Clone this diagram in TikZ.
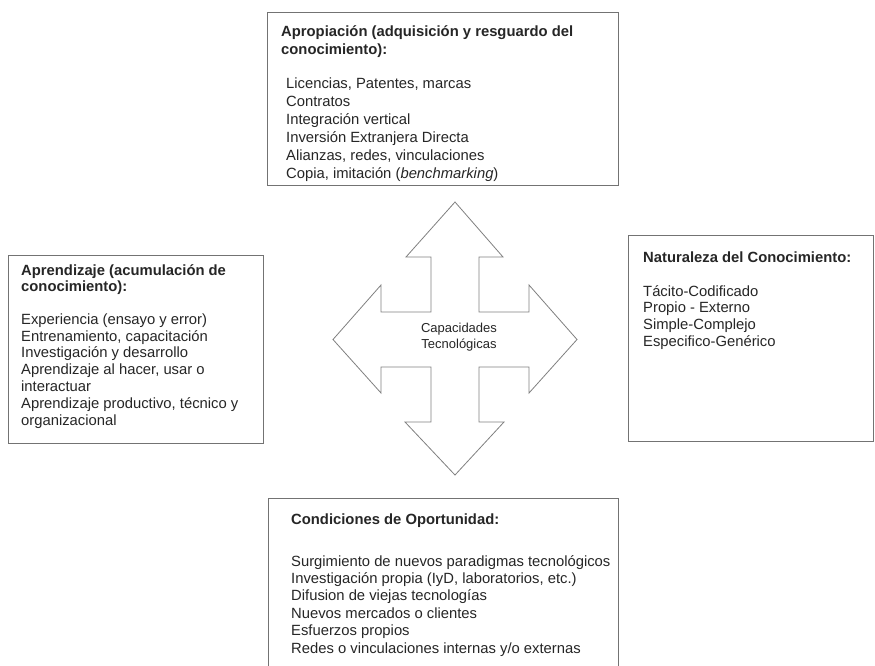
\documentclass[tikz,border=0pt]{standalone}
\usepackage{fontspec}
\setmainfont{Liberation Sans}
\begin{document}
\begin{tikzpicture}[x=1pt,y=-1pt,
  box/.style={draw=black!55, line width=0.8pt, fill=white, inner sep=0pt, anchor=north west},
  head/.style={font=\bfseries\fontsize{14.8}{18}\selectfont, anchor=base west, inner sep=0pt, text=black!85},
  item/.style={font=\fontsize{14.8}{18}\selectfont, anchor=base west, inner sep=0pt, text=black!85},
  ctext/.style={font=\fontsize{13}{16.3}\selectfont, align=center, inner sep=0pt, text=black!85},
  bigarrow/.style={draw=black!50, line width=0.8pt, fill=white, line join=miter}]
\useasboundingbox (0,0) rectangle (875,665);
\fill[white] (0,0) rectangle (875,665);

% boxes
\node[box, minimum width=351pt, minimum height=173pt] (topbox) at (267,12) {};
\node[box, minimum width=255pt, minimum height=188pt] (leftbox) at (8,255) {};
\node[box, minimum width=245pt, minimum height=206pt] (rightbox) at (628,235) {};
\node[box, minimum width=350pt, minimum height=190pt] (botbox) at (268,498) {};

% top box text
\node[head] (toph1) at (281,36) {Apropiación (adquisición y resguardo del};
\node[head] (toph2) at (281,54) {conocimiento):};
\foreach \t [count=\i from 0] in {{Licencias, Patentes, marcas},{Contratos},{Integración vertical},{Inversión Extranjera Directa},{Alianzas, redes, vinculaciones},{Copia, imitación (\textit{benchmarking})}}
  \node[item] (topi\i) at (286,88+\i*18) {\t};

% left box text
\node[head] (lefth1) at (21,275) {Aprendizaje (acumulación de};
\node[head] (lefth2) at (21,291.7) {conocimiento):};
\foreach \t [count=\i from 0] in {{Experiencia (ensayo y error)},{Entrenamiento, capacitación},{Investigación y desarrollo},{Aprendizaje al hacer, usar o},{interactuar},{Aprendizaje productivo, técnico y},{organizacional}}
  \node[item] (lefti\i) at (21,324.3+\i*16.8) {\t};

% right box text
\node[head] (righth1) at (643,262) {Naturaleza del Conocimiento:};
\foreach \t [count=\i from 0] in {{Tácito-Codificado},{Propio - Externo},{Simple-Complejo},{Especifico-Genérico}}
  \node[item] (righti\i) at (643,296+\i*16.7) {\t};

% bottom box text
\node[head] (both1) at (291,524) {Condiciones de Oportunidad:};
\foreach \t [count=\i from 0] in {{Surgimiento de nuevos paradigmas tecnológicos},{Investigación propia (IyD, laboratorios, etc.)},{Difusion de viejas tecnologías},{Nuevos mercados o clientes},{Esfuerzos propios},{Redes o vinculaciones internas y/o externas}}
  \node[item] (boti\i) at (291,566+\i*17.4) {\t};

% central four-way arrow
\draw[bigarrow] (455,202) -- (503,257) -- (479,257) -- (479,312) -- (529,312) -- (529,285)
  -- (577,339.5) -- (529,393) -- (529,367) -- (479,367) -- (479,422) -- (504,422)
  -- (455,475) -- (405,422) -- (431,422) -- (431,367) -- (381,367) -- (381,393)
  -- (333,339.5) -- (381,285) -- (381,312) -- (431,312) -- (431,257) -- (406,257) -- cycle;
\node[ctext, anchor=base] (cap1) at (459,332) {Capacidades};
\node[ctext, anchor=base] (cap2) at (459,348.3) {Tecnológicas};
\end{tikzpicture}
\end{document}
